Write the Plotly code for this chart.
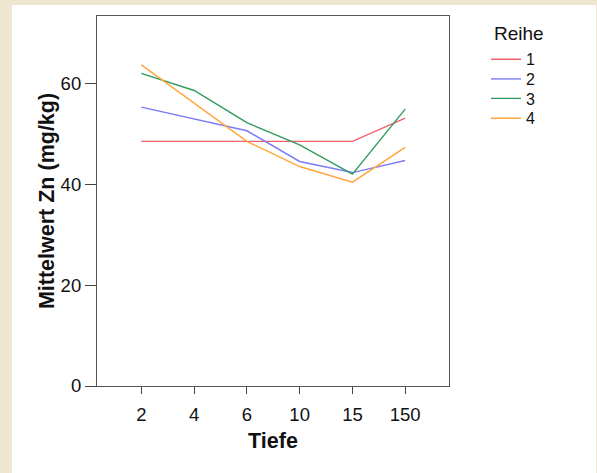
import plotly.graph_objects as go

# Depth categories (Tiefe) and mean Zn per series (Reihe)
tiefe = ["2", "4", "6", "10", "15", "150"]
reihe_1 = [48.6, 48.6, 48.6, 48.6, 48.6, 53.2]
reihe_2 = [55.4, 53.0, 50.7, 44.6, 42.4, 44.8]
reihe_3 = [62.1, 58.7, 52.3, 47.9, 42.1, 55.0]
reihe_4 = [63.8, 56.2, 48.6, 43.6, 40.5, 47.4]
series_names = ["1", "2", "3", "4"]
y_ticks = [0, 20, 40, 60]

colors = ["#F0606B", "#7B7BF7", "#2E9A5C", "#FFA53A"]
FONT = "Liberation Sans, Arial, sans-serif"

W, H = 597, 473
L, R, T, B = 97, 148, 16, 87
pw, ph = W - L - R, H - T - B


def px_x(x):
    return (x - L) / pw


def px_y(y):
    return (H - B - y) / ph


# one legend box per series so the rows sit closely together
legend_ids = ["legend", "legend2", "legend3", "legend4"]
row_centres = [59.3, 79.0, 98.5, 118.3]

fig = go.Figure()
for name, vals, col, lg in zip(series_names, [reihe_1, reihe_2, reihe_3, reihe_4], colors, legend_ids):
    fig.add_trace(go.Scatter(
        x=tiefe, y=vals, name=name, mode="lines",
        line=dict(color=col, width=1.4),
        legend=lg,
    ))

# White panel on beige page
fig.add_shape(type="rect", xref="paper", yref="paper", layer="below",
              x0=px_x(12), x1=px_x(596), y0=px_y(5), y1=px_y(480),
              fillcolor="white", line=dict(width=0))

# legend heading
fig.add_annotation(
    text="Reihe", xref="paper", yref="paper",
    x=px_x(492), y=px_y(34), xanchor="left", yanchor="middle",
    showarrow=False, font=dict(size=19, family=FONT, color="#111"),
)

leg_font = dict(size=16, family=FONT, color="#111")
leg_x = px_x(486)
legends = {}
for lg, yc in zip(legend_ids, row_centres):
    legends[lg] = dict(
        x=leg_x, y=px_y(yc), xanchor="left", yanchor="middle",
        font=leg_font, bgcolor="rgba(0,0,0,0)", itemwidth=30,
    )

fig.update_layout(
    width=W, height=H,
    margin=dict(l=L, r=R, t=T, b=B),
    paper_bgcolor="#EFE6CF",
    plot_bgcolor="white",
    font=dict(family=FONT, size=18, color="#111"),
    showlegend=True,
    xaxis=dict(
        type="category", categoryorder="array", categoryarray=tiefe,
        range=[-0.84, 5.83],
        showgrid=False, zeroline=False,
        showline=True, linecolor="#555", linewidth=1.2, mirror=True,
        ticks="outside", ticklen=7, tickcolor="#444", tickwidth=1.2,
        ticklabelstandoff=5,
        tickfont=dict(size=18.5, family=FONT, color="#111"),
        title=dict(text="<b>Tiefe</b>", font=dict(size=21.5, family=FONT, color="#111"), standoff=8),
    ),
    yaxis=dict(
        range=[0, 73.5],
        tickvals=y_ticks,
        showgrid=False, zeroline=False,
        showline=True, linecolor="#555", linewidth=1.2, mirror=True,
        ticks="outside", ticklen=11, tickcolor="#444", tickwidth=1.2,
        tickfont=dict(size=18.5, family=FONT, color="#111"),
        title=dict(text="<b>Mittelwert Zn (mg/kg)</b>", font=dict(size=21.5, family=FONT, color="#111"), standoff=0),
    ),
    **legends,
)

fig.write_html("out.html")
